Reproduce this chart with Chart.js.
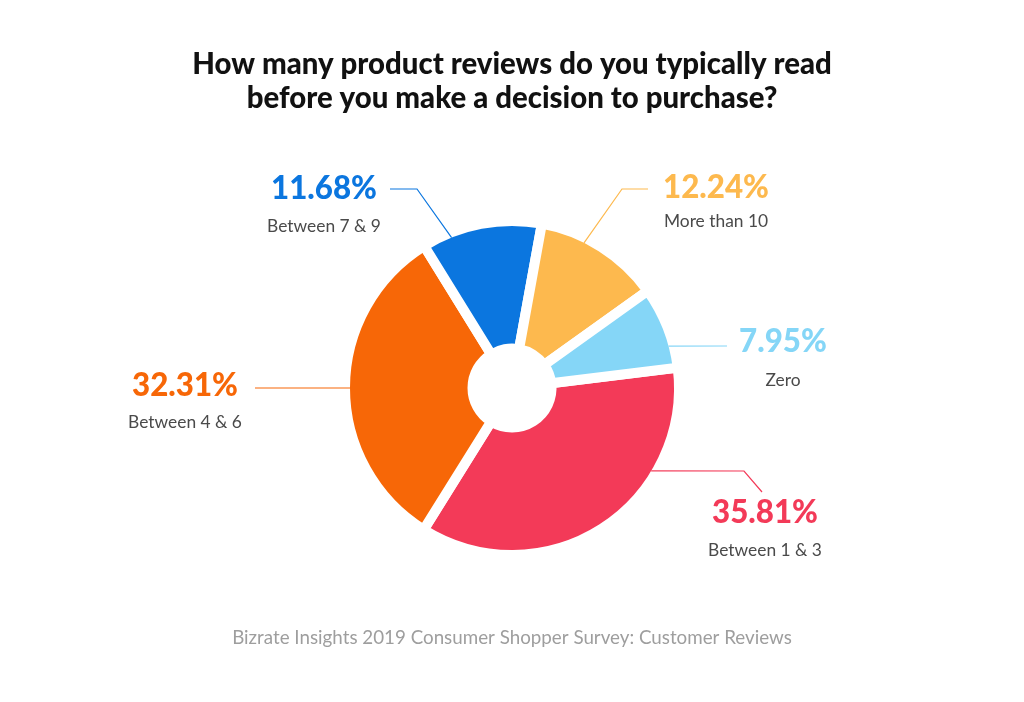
<!DOCTYPE html>
<html>
<head>
<meta charset="utf-8">
<script src="https://cdn.jsdelivr.net/npm/chart.js@4.4.0/dist/chart.umd.min.js"></script>
<style>
html,body{margin:0;padding:0;background:#ffffff;}
#wrap{position:relative;width:1024px;height:702px;}
</style>
</head>
<body>
<div id="wrap"><canvas id="c" width="1024" height="702"></canvas></div>
<script>
// ---- data ----
const categories = ['Between 1 & 3', 'Between 4 & 6', 'Between 7 & 9', 'More than 10', 'Zero'];
const shares = [35.81, 32.31, 11.68, 12.24, 7.95];
const sliceColors = ['#F33A58', '#F76707', '#0B76DF', '#FDB94E', '#85D6F7'];
const titleLines = ['How many product reviews do you typically read', 'before you make a decision to purchase?'];
const sourceNote = 'Bizrate Insights 2019 Consumer Shopper Survey: Customer Reviews';

// ---- layout (label placement, per category, same order) ----
const labelLayout = [
  {cx: 765, pctBase: 523, nameBase: 556, anchorDeg: 120.8, path: [[744, 471], [762, 492]]},
  {cx: 185, pctBase: 396, nameBase: 428, anchorDeg: 270, path: [[255, 388]]},
  {cx: 324, pctBase: 199, nameBase: 232, anchorDeg: 338.1, path: [[417, 189], [390, 189]]},
  {cx: 716, pctBase: 198, nameBase: 227, anchorDeg: 26.4, path: [[622, 189], [648, 189]]},
  {cx: 783, pctBase: 352, nameBase: 386, anchorDeg: 75, path: [[727, 346]]}
];
const BORDER = 10;

function fitSize(ctx, text, weight, family, target) {
  ctx.font = weight + ' 100px ' + family;
  const w = ctx.measureText(text).width;
  return 100 * target / w;
}

const annotations = {
  id: 'annotations',
  afterDraw(chart) {
    const ctx = chart.ctx;
    const meta = chart.getDatasetMeta(0);
    const a0 = meta.data[0];
    const cx0 = a0.x, cy0 = a0.y;
    const R = a0.outerRadius - BORDER / 2;
    ctx.save();

    // title
    const tFam = 'Lato, "Open Sans", sans-serif';
    const tSize = fitSize(ctx, titleLines[0], '900', tFam, 640);
    ctx.font = '900 ' + tSize.toFixed(2) + 'px ' + tFam;
    ctx.fillStyle = '#111111';
    ctx.textAlign = 'center';
    ctx.textBaseline = 'alphabetic';
    ctx.fillText(titleLines[0], 512, 74);
    ctx.fillText(titleLines[1], 512, 108);

    // source
    const sSize = fitSize(ctx, sourceNote, '400', tFam, 560);
    ctx.font = '400 ' + sSize.toFixed(2) + 'px ' + tFam;
    ctx.fillStyle = '#9E9E9E';
    ctx.fillText(sourceNote, 512, 644);

    // labels + leader lines
    const pSize = fitSize(ctx, '35.81%', '900', tFam, 106);
    const nSize = fitSize(ctx, 'Between 1 & 3', '400', tFam, 114);
    categories.forEach((name, i) => {
      const L = labelLayout[i];
      const th = L.anchorDeg * Math.PI / 180;
      const ax = cx0 + R * Math.sin(th);
      const ay = cy0 - R * Math.cos(th);
      ctx.beginPath();
      ctx.moveTo(ax, ay);
      L.path.forEach(p => ctx.lineTo(p[0], p[1]));
      ctx.strokeStyle = sliceColors[i];
      ctx.lineWidth = 1.2;
      ctx.stroke();

      ctx.textAlign = 'center';
      ctx.fillStyle = sliceColors[i];
      ctx.font = '900 ' + pSize.toFixed(2) + 'px ' + tFam;
      ctx.fillText(shares[i].toFixed(2) + '%', L.cx, L.pctBase);
      ctx.fillStyle = '#4A4A4A';
      ctx.font = '400 ' + nSize.toFixed(2) + 'px ' + tFam;
      ctx.fillText(name, L.cx, L.nameBase);
    });
    ctx.restore();
  }
};

new Chart(document.getElementById('c').getContext('2d'), {
  type: 'doughnut',
  data: {
    labels: categories,
    datasets: [{
      data: shares,
      backgroundColor: sliceColors,
      borderColor: '#ffffff',
      borderWidth: BORDER,
      borderJoinStyle: 'miter',
      hoverOffset: 0
    }]
  },
  options: {
    responsive: false,
    animation: false,
    events: [],
    rotation: 83,
    cutout: '23.65%',
    layout: {padding: {top: 216, bottom: 142, left: 0, right: 0}},
    plugins: {legend: {display: false}, tooltip: {enabled: false}}
  },
  plugins: [annotations]
});
</script>
</body>
</html>
